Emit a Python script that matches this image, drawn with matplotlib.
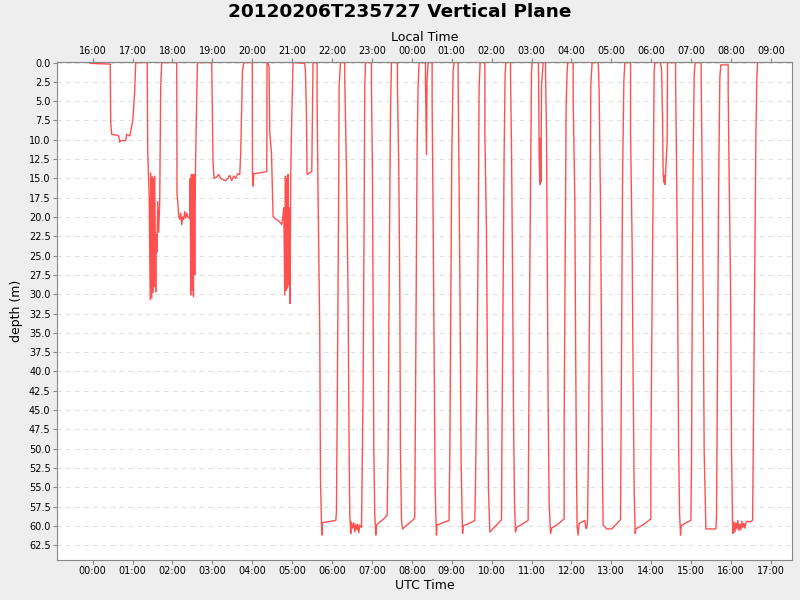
import numpy as np
import matplotlib.pyplot as plt

title = "20120206T235727 Vertical Plane"
utc_hours = list(range(0, 18))
local_offset = -8

# minutes after 00:00 UTC, depth in metres
minutes_utc = [
    -3.8, 26.3, 27.1, 28.6, 36.1, 39.1, 40.6, 42.1, 49.6, 51.2, 55.7, 60.2, 63.2, 64.7, 82.0, 82.7, 85.0,
    86.5, 87.3, 88.8, 89.5, 90.3, 91.3, 92.2, 93.3, 94.8, 95.5, 96.7, 97.8, 99.3, 100.8, 102.3, 103.8,
    126.4, 126.8, 127.9, 129.4, 130.9, 132.4, 133.9, 135.4, 136.9, 138.4, 139.9, 141.4, 142.9, 145.9,
    146.7, 147.4, 148.5, 149.4, 150.5, 151.5, 152.4, 153.5, 154.5, 155.7, 157.5,
    179.0, 179.5, 181.0, 182.5, 186.6, 189.6, 192.6, 197.1, 200.1, 203.1, 206.1, 209.1, 212.1, 215.1,
    218.2, 221.2, 222.7, 225.2, 227.2,
    240.0, 240.3, 241.2, 242.2, 251.3, 261.8, 262.2, 264.3, 265.2, 266.3, 268.9, 271.3, 273.8, 279.8,
    284.4, 285.9, 287.4, 288.9, 289.9, 290.8, 291.9, 292.9, 293.8, 294.9, 295.9, 296.8, 297.9, 299.4, 301.3,
    318.9, 320.0, 321.5, 322.4, 329.5, 331.4,
    337.5, 337.5, 339.0, 341.5, 342.6, 344.1, 345.0, 345.6, 359.1, 365.6, 366.6, 368.1, 370.1, 370.6, 372.7,
    379.1, 379.1, 381.7, 384.1, 385.6, 386.7, 388.2, 388.9, 391.2, 392.7, 394.2, 395.7, 397.2, 398.7,
    400.2, 401.7, 404.3, 404.7, 406.7, 408.2, 409.2, 410.3,
    419.3, 419.3, 420.8, 421.7, 422.8, 424.3, 425.8, 426.8, 431.8, 437.8, 442.8, 444.3, 445.8, 447.9, 449.4,
    458.4, 458.4, 460.4, 461.9, 462.9, 464.4, 465.9, 473.9, 483.4, 484.4, 486.0, 487.9, 489.4, 490.9,
    500.5, 500.5, 502.0, 502.9, 504.5, 510.5, 510.5, 512.0, 513.5, 515.0, 516.5, 517.1, 518.0, 526.6,
    536.0, 536.0, 537.1, 538.6, 540.1, 542.1, 543.6,
    549.6, 549.6, 551.1, 552.6, 554.1, 555.6, 556.4, 557.1, 565.7, 574.7, 575.8, 578.2, 579.7, 581.2, 582.7,
    589.8, 589.8, 592.3, 593.8, 595.3, 597.3, 606.3, 614.9, 615.3, 617.3, 618.8, 620.3, 621.4,
    628.4, 628.4, 629.9, 631.4, 632.9, 634.4, 635.9, 637.5, 645.4, 654.9, 655.5, 657.0, 659.0, 660.0, 660.9,
    670.5, 670.5, 671.5, 672.5, 673.3, 674.0, 675.1, 677.5, 681.1, 681.1, 682.6, 683.5, 685.0, 686.5,
    688.6, 690.1, 699.6, 709.1, 709.1, 710.6, 712.1, 713.6, 714.6,
    722.6, 722.6, 725.2, 726.2, 727.7, 728.6, 730.1, 731.6, 740.2, 741.7, 743.2, 744.3, 745.8, 747.7,
    749.2, 751.2,
    760.2, 760.8, 761.7, 763.8, 765.3, 766.8, 767.7, 773.3, 780.8, 792.9, 793.9, 795.4, 796.9, 798.9, 800.4,
    809.0, 809.0, 811.4, 812.9, 814.4, 815.9, 816.9, 827.5, 839.5, 839.5, 841.5, 843.0, 844.5, 845.5,
    854.1, 855.6, 857.1, 858.0, 859.1, 860.1, 861.0, 862.1, 864.0, 864.6,
    876.7, 876.7, 878.2, 879.7, 881.2, 882.7, 884.2, 885.1, 892.2, 899.7, 900.7, 901.6, 903.2, 904.7, 906.1,
    915.2, 915.2, 916.7, 918.2, 919.7, 921.8, 922.3, 937.3, 938.3, 939.9, 941.4, 943.3, 944.8, 955.8,
    955.8, 957.3, 959.4, 960.9, 962.4, 963.3, 964.4, 965.9, 967.4, 968.9, 970.4, 971.9, 973.4, 974.9,
    976.4, 977.9, 979.4, 980.9, 982.4, 984.4, 988.4, 992.5, 993.4, 995.5, 997.5, 999.0, 1000.0,
]
depth_m = [
    0.1, 0.2, 7.8, 9.3, 9.4, 9.5, 10.3, 10.1, 10.1, 9.3, 9.5, 7.6, 3.7, 0.0, 0.0, 11.3, 17.5,
    30.7, 14.3, 30.5, 14.8, 29.8, 15.0, 29.0, 14.7, 29.7, 22.3, 24.5, 18.0, 22.0, 18.0, 3.0, 0.0,
    0.0, 16.9, 18.0, 19.9, 20.3, 19.5, 21.0, 20.0, 20.3, 19.3, 20.1, 19.5, 20.0, 20.2,
    15.0, 30.1, 14.5, 29.5, 14.5, 30.3, 14.5, 27.5, 14.3, 8.0, 0.0,
    0.0, 3.2, 13.0, 15.0, 14.8, 14.5, 15.0, 15.2, 15.3, 15.0, 14.6, 15.3, 14.7, 15.0,
    14.4, 14.5, 11.5, 1.1, 0.0,
    0.0, 14.3, 16.0, 14.4, 14.3, 14.1, 0.0, 0.2, 0.5, 9.1, 11.7, 19.9, 20.2, 20.5,
    21.0, 20.0, 18.8, 30.1, 14.7, 29.5, 15.0, 29.2, 14.5, 28.8, 18.8, 31.2, 14.1, 7.0, 0.0,
    0.1, 1.1, 6.7, 14.5, 14.1, 0.0,
    0.0, 5.0, 17.5, 34.8, 54.1, 59.7, 61.2, 59.6, 59.4, 59.3, 58.2, 41.1, 14.1, 3.1, 0.0,
    0.0, 1.9, 14.1, 30.1, 49.5, 58.8, 61.0, 59.5, 60.3, 59.6, 60.8, 59.8, 60.5, 59.8,
    60.9, 59.9, 60.2, 57.7, 42.2, 20.6, 3.2, 0.0,
    0.0, 3.3, 14.3, 29.9, 50.0, 58.8, 61.2, 59.9, 59.5, 59.1, 58.6, 50.8, 29.2, 6.3, 0.0,
    0.0, 3.3, 13.7, 29.7, 50.4, 59.1, 60.4, 59.8, 59.1, 58.8, 37.9, 11.5, 3.2, 0.0,
    0.0, 2.0, 11.9, 2.2, 0.0, 0.0, 5.0, 19.9, 36.8, 54.7, 59.9, 61.2, 59.9, 59.6,
    59.3, 58.5, 51.0, 31.4, 11.9, 1.1, 0.0,
    0.0, 2.2, 15.8, 32.0, 51.5, 58.6, 61.0, 60.0, 59.7, 59.3, 54.3, 37.9, 23.8, 3.2, 0.0,
    0.0, 8.8, 22.1, 40.7, 55.2, 60.8, 60.0, 59.2, 51.5, 29.2, 11.9, 1.6, 0.0,
    0.0, 1.6, 10.9, 25.8, 45.2, 56.9, 60.8, 60.2, 59.8, 59.3, 51.5, 31.8, 11.9, 1.1, 0.0,
    0.0, 0.7, 12.1, 15.8, 9.8, 15.5, 3.0, 0.0, 0.0, 1.3, 9.6, 23.4, 44.1, 56.9,
    61.0, 60.3, 59.8, 59.1, 46.5, 24.9, 5.4, 1.1, 0.0,
    0.0, 4.6, 18.0, 34.8, 53.4, 60.1, 61.2, 59.7, 59.3, 60.3, 60.3, 59.3, 49.1, 25.8,
    2.9, 0.0,
    0.0, 0.9, 3.7, 18.4, 36.4, 53.9, 59.9, 60.4, 60.4, 59.3, 59.2, 37.9, 15.4, 2.4, 0.0,
    0.0, 9.3, 23.8, 41.7, 55.4, 61.0, 60.4, 59.9, 59.1, 51.3, 29.2, 16.2, 1.1, 0.0,
    0.0, 0.9, 7.2, 14.5, 15.5, 14.6, 15.8, 13.4, 10.4, 0.0,
    0.0, 2.0, 13.4, 28.8, 49.3, 58.4, 61.2, 60.0, 59.6, 59.3, 51.5, 33.5, 11.9, 1.6, 0.0,
    0.0, 2.2, 14.3, 30.3, 50.4, 58.8, 60.4, 60.4, 58.6, 37.9, 16.2, 1.8, 0.3, 0.3,
    3.7, 15.0, 29.2, 50.6, 59.7, 61.0, 59.5, 60.8, 59.6, 60.4, 59.3, 60.6, 59.8, 60.5,
    59.4, 60.2, 59.7, 60.3, 59.6, 59.4, 59.5, 59.3, 51.3, 29.2, 9.3, 1.8, 0.0,
]

hours = np.array(minutes_utc) / 60.0
depth = np.array(depth_m)

fig = plt.figure(figsize=(8, 6), dpi=100, facecolor='#eeeeee')
ax = fig.add_axes([0.071, 0.067, 0.919, 0.83])
ax.set_facecolor('white')

ax.plot(hours, depth, color='#ff5050', lw=1)

ax.set_xlim(-0.9, 17.53)
ax.set_ylim(64.4, -0.1)

yt = np.arange(0, 62.6, 2.5)
ax.set_yticks(yt)
ax.set_yticklabels(['%.1f' % v for v in yt])
ax.yaxis.grid(True, linestyle=(0, (4, 4)), color='#e0e0e0', lw=0.8)
ax.set_axisbelow(True)

ax.set_xticks(utc_hours)
ax.set_xticklabels(['%02d:00' % h for h in utc_hours])
top = ax.secondary_xaxis('top')
top.set_xticks(utc_hours)
top.set_xticklabels(['%02d:00' % ((h + local_offset) % 24) for h in utc_hours])

for a in (ax, top):
    a.tick_params(labelsize=7, color='#888888', length=3, pad=1.5)
for s in ax.spines.values():
    s.set_color('#888888')
for s in top.spines.values():
    s.set_color('#888888')

ax.set_xlabel('UTC Time', fontsize=9, labelpad=2)
top.set_xlabel('Local Time', fontsize=9, labelpad=3)
ax.set_ylabel('depth (m)', fontsize=9, labelpad=4)

fig.text(0.5, 0.98, title, ha='center', va='center', fontsize=13.3, fontweight='bold')

fig.savefig('out.png', dpi=100, facecolor=fig.get_facecolor())
